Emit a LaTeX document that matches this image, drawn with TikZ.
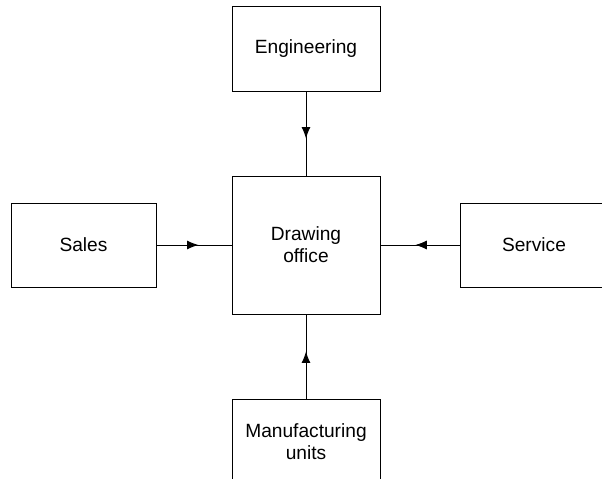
\documentclass[tikz,border=0pt]{standalone}
\usepackage{fontspec}
\setmainfont{Liberation Sans}
\usetikzlibrary{arrows.meta,decorations.markings}
\tikzset{
  unit/.style={draw, line width=0.55pt, minimum width=2.96cm, minimum height=1.7cm,
    inner sep=0pt, align=center, font=\fontsize{10.9}{12.6}\selectfont},
  flow/.style={line width=0.55pt, postaction={decorate},
    decoration={markings, mark=at position 0.56 with {\arrow{Latex[length=2.3mm,width=1.8mm]}}}}
}
\begin{document}
\begin{tikzpicture}[x=0.02cm, y=-0.02cm]
    % page
    \path [use as bounding box, clip] (0, 0) rectangle (602, 479);
    % departments
    \node [unit] (eng) at (306, 48.5) {Engineering};
    \node [unit, minimum height=2.76cm] (office) at (306, 245) {Drawing\\office};
    \node [unit, minimum width=2.9cm, minimum height=1.68cm] (sales) at (83.5, 245) {Sales};
    \node [unit, minimum height=1.68cm] (service) at (534, 245) {Service};
    \node [unit] (manuf) at (306, 441.5) {Manufacturing\\units};
    % flows into the office
    \draw [flow] (eng) -- (office);
    \draw [flow] (sales) -- (office);
    \draw [flow] (service) -- (office);
    \draw [flow] (manuf) -- (office);
  \end{tikzpicture}
\end{document}
